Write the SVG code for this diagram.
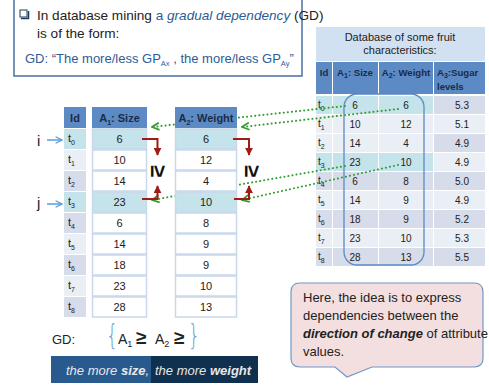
<svg xmlns="http://www.w3.org/2000/svg" width="489" height="387" viewBox="0 0 489 387">
<style>
text{font-family:"Liberation Sans",Arial,sans-serif;fill:#222}
.c{text-anchor:middle}
.lc{font-size:11px}
.rc{font-size:10px}
.hd{font-weight:bold;fill:#1b2c47}
.sub{font-size:7px}
.blue{fill:#2f5c96}
.grn{fill:none;stroke:#2f9e2f;stroke-width:2;stroke-dasharray:0.1 4;stroke-linecap:round}
.red{fill:none;stroke:#9e1b16;stroke-width:2}
.cell{fill:#fff;stroke:#c9d8ec;stroke-width:1.5}
.hlc{fill:#c4e3eb;stroke:#c9d8ec;stroke-width:1.5}
.hdr{fill:#5b8ac4}
.hl{fill:#c4e3eb}
.dk{fill:#d6dcea}
.lt{fill:#eaeef5}
.ptr{fill:none;stroke:#5b9bd5;stroke-width:1.5}
.geq{font-size:22px;font-weight:bold;fill:#111}
.brace{font-family:"DejaVu Sans",sans-serif;font-weight:200;font-size:24px;fill:#6a9fd8}
</style>
<defs>
<marker id="ga" viewBox="0 0 10 10" refX="9" refY="5" markerWidth="9" markerHeight="9" markerUnits="userSpaceOnUse" orient="auto">
<path d="M1,1 L9,5 L1,9" fill="none" stroke="#2f9e2f" stroke-width="2"/>
</marker>
<marker id="ra" viewBox="0 0 10 10" refX="9" refY="5" markerWidth="8" markerHeight="8" markerUnits="userSpaceOnUse" orient="auto">
<path d="M0,0 L10,5 L0,10 Z" fill="#9e1b16"/>
</marker>
<marker id="ba" viewBox="0 0 10 10" refX="9" refY="5" markerWidth="8" markerHeight="8" markerUnits="userSpaceOnUse" orient="auto">
<path d="M1,1 L9,5 L1,9" fill="none" stroke="#5b9bd5" stroke-width="1.6"/>
</marker>
</defs>
<rect width="489" height="387" fill="#fff"/>

<g id="intro">
<rect x="14" y="-2" width="288" height="78" fill="#fff" stroke="#4a6fa0" stroke-width="1.5"/>
<rect x="20" y="10" width="7" height="7" fill="#fff" stroke="#1e3a5c" stroke-width="1"/>
<path d="M28.5,11 V18.5 H21" fill="none" stroke="#1e3a5c" stroke-width="1.5"/>
<text x="37" y="20" font-size="13.6">In database mining <tspan class="blue">a </tspan><tspan class="blue" font-style="italic">gradual dependency</tspan> (GD)</text>
<text x="37" y="38" font-size="13.6">is of the form:</text>
<text x="25" y="63" font-size="13" class="blue">GD:  “The more/less GP<tspan font-size="7.5" dy="3">Ax</tspan><tspan dy="-3"> , the more/less GP</tspan><tspan font-size="7.5" dy="3">Ay</tspan><tspan dy="-3">”</tspan></text>
</g>

<g id="fruit-db">
<rect x="316" y="27" width="169" height="34" fill="#d2e1f1"/>
<text x="400" y="41" class="c" font-size="11">Database of some fruit</text>
<text x="400" y="54" class="c" font-size="11">characteristics:</text>
<rect x="316" y="62" width="16" height="32" class="hdr"/>
<rect x="333" y="62" width="45" height="32" class="hdr"/>
<rect x="379" y="62" width="54" height="32" class="hdr"/>
<rect x="434" y="62" width="51" height="32" class="hdr"/>
<g font-size="9.6">
<text x="324" y="76" class="c hd">Id</text>
<text x="355" y="76" class="c hd">A<tspan class="sub" dy="2">1</tspan><tspan dy="-2">: Size</tspan></text>
<text x="406" y="76" class="c hd">A<tspan class="sub" dy="2">2</tspan><tspan dy="-2">: Weight</tspan></text>
<text x="437" y="76" class="hd">A<tspan class="sub" dy="2">3</tspan><tspan dy="-2">:Sugar</tspan></text>
<text x="437" y="90" class="hd">levels</text>
</g>
<rect x="316" y="96" width="16" height="18" class="hl"/><rect x="333" y="96" width="45" height="18" class="hl"/><rect x="379" y="96" width="54" height="18" class="hl"/><rect x="434" y="96" width="51" height="18" class="dk"/>
<rect x="316" y="115" width="16" height="18" class="lt"/><rect x="333" y="115" width="45" height="18" class="lt"/><rect x="379" y="115" width="54" height="18" class="lt"/><rect x="434" y="115" width="51" height="18" class="lt"/>
<rect x="316" y="134" width="16" height="18" class="lt"/><rect x="333" y="134" width="45" height="18" class="lt"/><rect x="379" y="134" width="54" height="18" class="lt"/><rect x="434" y="134" width="51" height="18" class="dk"/>
<rect x="316" y="153" width="16" height="18" class="hl"/><rect x="333" y="153" width="45" height="18" class="hl"/><rect x="379" y="153" width="54" height="18" class="hl"/><rect x="434" y="153" width="51" height="18" class="lt"/>
<rect x="316" y="172" width="16" height="18" class="dk"/><rect x="333" y="172" width="45" height="18" class="dk"/><rect x="379" y="172" width="54" height="18" class="dk"/><rect x="434" y="172" width="51" height="18" class="dk"/>
<rect x="316" y="191" width="16" height="18" class="lt"/><rect x="333" y="191" width="45" height="18" class="lt"/><rect x="379" y="191" width="54" height="18" class="lt"/><rect x="434" y="191" width="51" height="18" class="lt"/>
<rect x="316" y="210" width="16" height="18" class="dk"/><rect x="333" y="210" width="45" height="18" class="dk"/><rect x="379" y="210" width="54" height="18" class="dk"/><rect x="434" y="210" width="51" height="18" class="dk"/>
<rect x="316" y="229" width="16" height="18" class="lt"/><rect x="333" y="229" width="45" height="18" class="lt"/><rect x="379" y="229" width="54" height="18" class="lt"/><rect x="434" y="229" width="51" height="18" class="lt"/>
<rect x="316" y="248" width="16" height="18" class="dk"/><rect x="333" y="248" width="45" height="18" class="dk"/><rect x="379" y="248" width="54" height="18" class="dk"/><rect x="434" y="248" width="51" height="18" class="dk"/>
<g class="rc">
<text x="318" y="108">t<tspan class="sub" dy="3">0</tspan></text>
<text x="318" y="127">t<tspan class="sub" dy="3">1</tspan></text>
<text x="318" y="146">t<tspan class="sub" dy="3">2</tspan></text>
<text x="318" y="165">t<tspan class="sub" dy="3">3</tspan></text>
<text x="318" y="184">t<tspan class="sub" dy="3">4</tspan></text>
<text x="318" y="203">t<tspan class="sub" dy="3">5</tspan></text>
<text x="318" y="222">t<tspan class="sub" dy="3">6</tspan></text>
<text x="318" y="241">t<tspan class="sub" dy="3">7</tspan></text>
<text x="318" y="260">t<tspan class="sub" dy="3">8</tspan></text>
</g>
<g class="rc c">
<text x="355" y="109">6</text><text x="406" y="109">6</text><text x="462" y="109">5.3</text>
<text x="355" y="128">10</text><text x="406" y="128">12</text><text x="462" y="128">5.1</text>
<text x="355" y="147">14</text><text x="406" y="147">4</text><text x="462" y="147">4.9</text>
<text x="355" y="166">23</text><text x="406" y="166">10</text><text x="462" y="166">4.9</text>
<text x="355" y="185">6</text><text x="406" y="185">8</text><text x="462" y="185">5.0</text>
<text x="355" y="204">14</text><text x="406" y="204">9</text><text x="462" y="204">4.9</text>
<text x="355" y="223">18</text><text x="406" y="223">9</text><text x="462" y="223">5.2</text>
<text x="355" y="242">23</text><text x="406" y="242">10</text><text x="462" y="242">5.3</text>
<text x="355" y="261">28</text><text x="406" y="261">13</text><text x="462" y="261">5.5</text>
</g>
<rect x="344" y="94" width="80" height="171" rx="13" fill="none" stroke="#5b8ac4" stroke-width="1.3"/>
</g>

<g id="connectors">
<path class="grn" d="M345,106 L152,127" marker-end="url(#ga)"/>
<path class="grn" d="M398,109 L242,127" marker-end="url(#ga)"/>
<path class="grn" d="M345,166 L152,200" marker-end="url(#ga)"/>
<path class="grn" d="M398,165 L242,200" marker-end="url(#ga)"/>
</g>

<g id="table-id">
<rect x="64" y="107" width="22" height="21" class="hdr"/>
<text x="75" y="122" class="c lc hd">Id</text>
<rect x="64" y="129" width="22" height="20" class="hl"/>
<rect x="64" y="150" width="22" height="20" class="lt"/>
<rect x="64" y="171" width="22" height="20" class="dk"/>
<rect x="64" y="192" width="22" height="20" class="hl"/>
<rect x="64" y="213" width="22" height="20" class="dk"/>
<rect x="64" y="234" width="22" height="20" class="lt"/>
<rect x="64" y="255" width="22" height="20" class="dk"/>
<rect x="64" y="276" width="22" height="20" class="lt"/>
<rect x="64" y="297" width="22" height="20" class="dk"/>
<g class="lc">
<text x="68" y="142">t<tspan class="sub" dy="3">0</tspan></text>
<text x="68" y="163">t<tspan class="sub" dy="3">1</tspan></text>
<text x="68" y="184">t<tspan class="sub" dy="3">2</tspan></text>
<text x="68" y="205">t<tspan class="sub" dy="3">3</tspan></text>
<text x="68" y="226">t<tspan class="sub" dy="3">4</tspan></text>
<text x="68" y="247">t<tspan class="sub" dy="3">5</tspan></text>
<text x="68" y="268">t<tspan class="sub" dy="3">6</tspan></text>
<text x="68" y="289">t<tspan class="sub" dy="3">7</tspan></text>
<text x="68" y="310">t<tspan class="sub" dy="3">8</tspan></text>
</g>
</g>

<g id="table-a1">
<rect x="92" y="107" width="55" height="21" class="hdr"/>
<text x="119.5" y="122" class="c lc hd">A<tspan class="sub" dy="3">1</tspan><tspan dy="-3">: Size</tspan></text>
<rect x="92.5" y="129" width="54" height="20" class="hlc"/>
<rect x="92.5" y="150" width="54" height="20" class="cell"/>
<rect x="92.5" y="171" width="54" height="20" class="cell"/>
<rect x="92.5" y="192" width="54" height="20" class="hlc"/>
<rect x="92.5" y="213" width="54" height="20" class="cell"/>
<rect x="92.5" y="234" width="54" height="20" class="cell"/>
<rect x="92.5" y="255" width="54" height="20" class="cell"/>
<rect x="92.5" y="276" width="54" height="20" class="cell"/>
<rect x="92.5" y="297" width="54" height="20" class="cell"/>
<g class="lc c">
<text x="119.5" y="143">6</text><text x="119.5" y="164">10</text><text x="119.5" y="185">14</text>
<text x="119.5" y="206">23</text><text x="119.5" y="227">6</text><text x="119.5" y="248">14</text>
<text x="119.5" y="269">18</text><text x="119.5" y="290">23</text><text x="119.5" y="311">28</text>
</g>
</g>

<g id="table-a2">
<rect x="175" y="107" width="62" height="21" class="hdr"/>
<text x="206" y="122" class="c lc hd">A<tspan class="sub" dy="3">2</tspan><tspan dy="-3">: Weight</tspan></text>
<rect x="175.5" y="129" width="61" height="20" class="hlc"/>
<rect x="175.5" y="150" width="61" height="20" class="cell"/>
<rect x="175.5" y="171" width="61" height="20" class="cell"/>
<rect x="175.5" y="192" width="61" height="20" class="hlc"/>
<rect x="175.5" y="213" width="61" height="20" class="cell"/>
<rect x="175.5" y="234" width="61" height="20" class="cell"/>
<rect x="175.5" y="255" width="61" height="20" class="cell"/>
<rect x="175.5" y="276" width="61" height="20" class="cell"/>
<rect x="175.5" y="297" width="61" height="20" class="cell"/>
<g class="lc c">
<text x="206" y="143">6</text><text x="206" y="164">12</text><text x="206" y="185">4</text>
<text x="206" y="206">10</text><text x="206" y="227">8</text><text x="206" y="248">9</text>
<text x="206" y="269">9</text><text x="206" y="290">10</text><text x="206" y="311">13</text>
</g>
</g>

<g id="compare-marks">
<path class="red" d="M142,139 H157.5 V155" marker-end="url(#ra)"/>
<path class="red" d="M142,199 H157.5 V186" marker-end="url(#ra)"/>
<path class="red" d="M233,139 H249 V155" marker-end="url(#ra)"/>
<path class="red" d="M234,199 H249 V186" marker-end="url(#ra)"/>
<text class="geq c" transform="translate(159,171) rotate(90)" y="8">≥</text>
<text class="geq c" transform="translate(253,171) rotate(90)" y="8">≥</text>
</g>

<g id="ij">
<text x="37" y="146" font-size="15">i</text>
<path class="ptr" d="M47,140 H62" marker-end="url(#ba)"/>
<text x="37" y="208" font-size="15">j</text>
<path class="ptr" d="M47,204 H62" marker-end="url(#ba)"/>
</g>

<g id="gd-formula">
<text x="52" y="344" font-size="13">GD:</text>
<text class="brace" transform="translate(106,345) scale(0.8,1.15)">{</text>
<text x="118" y="344" font-size="14">A<tspan font-size="9" dy="3">1</tspan></text>
<text x="136" y="344" font-size="19" font-weight="bold">≥</text>
<text x="155" y="344" font-size="14">A<tspan font-size="9" dy="3">2</tspan></text>
<text x="174" y="344" font-size="19" font-weight="bold">≥</text>
<text class="brace" transform="translate(188,345) scale(0.8,1.15)">}</text>
</g>

<g id="banner">
<rect x="51" y="356" width="100" height="27" fill="#285a8e"/>
<rect x="151" y="356" width="107" height="27" fill="#10304f"/>
<text x="66" y="375" font-size="13" font-style="italic" style="fill:#e8e8e8">the more <tspan font-weight="bold">size</tspan>,</text>
<text x="155" y="375" font-size="13" font-style="italic" style="fill:#e8e8e8">the more <tspan font-weight="bold">weight</tspan></text>
</g>

<g id="callout">
<path d="M300,283 H474 Q483,283 483,292 V358 Q483,367 474,367 H372 L347,377 L335,367 H300 Q291,367 291,358 V292 Q291,283 300,283 Z" fill="#f3dfdf" stroke="#6f98c8" stroke-width="1.2"/>
<text x="303" y="302" font-size="13">Here, the idea is to express</text>
<text x="303" y="320" font-size="13">dependencies between the</text>
<text x="303" y="338" font-size="13"><tspan font-weight="bold" font-style="italic">direction of change</tspan> of attribute</text>
<text x="303" y="356" font-size="13">values.</text>
</g>
</svg>
